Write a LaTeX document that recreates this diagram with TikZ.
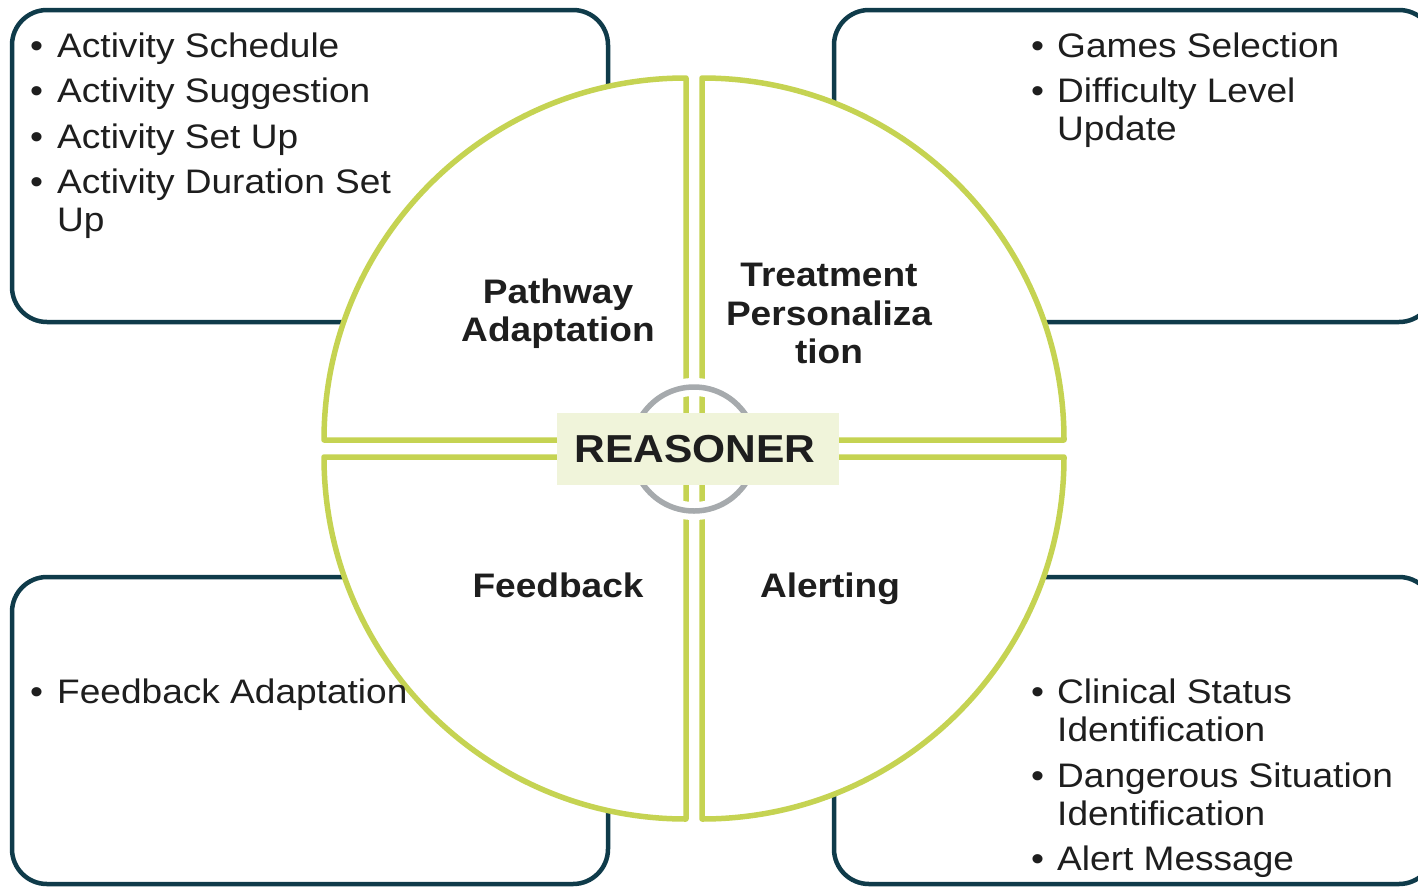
\documentclass[tikz,border=0pt]{standalone}
\usepackage{fontspec}
\setmainfont{Liberation Sans}[FakeStretch=1.09]
\definecolor{teal}{RGB}{15,59,74}
\definecolor{lgreen}{RGB}{197,211,82}
\definecolor{ringgray}{RGB}{166,170,173}
\definecolor{cfill}{RGB}{240,244,218}
\definecolor{ink}{RGB}{30,30,30}
\tikzset{
  boxshape/.style={draw=teal, line width=4.5pt, rounded corners=35pt, fill=white, inner sep=0pt},
  sector/.style={draw=lgreen, line width=5.5pt, fill=white, line join=round},
  bul/.style={anchor=base west, inner sep=0pt, text=ink, font=\fontsize{34}{38}\selectfont},
  txt/.style={anchor=base west, inner sep=0pt, text=ink, font=\fontsize{34}{38}\selectfont},
  lbl/.style={anchor=base, inner sep=0pt, text=ink, font=\bfseries\fontsize{34}{38}\selectfont},
  centerbox/.style={fill=cfill, minimum width=282pt, minimum height=72pt, inner sep=0pt, text=ink, font=\bfseries\fontsize{39}{44}\selectfont}
}
\begin{document}
\begin{tikzpicture}[x=1pt,y=-1pt]
\useasboundingbox (0,0) rectangle (1418,886);
\clip (0,0) rectangle (1418,886);
\fill[white] (0,0) rectangle (1418,886);
% outer boxes
\node[boxshape, minimum width=596pt, minimum height=312pt] (tlbox) at (310,166) {};
\node[boxshape, minimum width=600pt, minimum height=312pt] (trbox) at (1134,166) {};
\node[boxshape, minimum width=596pt, minimum height=307pt] (blbox) at (310,730.5) {};
\node[boxshape, minimum width=600pt, minimum height=307pt] (brbox) at (1134,730.5) {};
% sectors
\draw[sector] (686,440) -- (324,440) arc[start angle=180, end angle=270, radius=362] -- cycle;
\draw[sector] (702,440) -- (702,78) arc[start angle=270, end angle=360, radius=362] -- cycle;
\draw[sector] (686,457) -- (686,819) arc[start angle=90, end angle=180, radius=362] -- cycle;
\draw[sector] (702,457) -- (1064,457) arc[start angle=0, end angle=90, radius=362] -- cycle;
% ring
\draw[white, line width=18pt] (694,449) circle[radius=62];
\draw[ringgray, line width=5.5pt] (694,449) circle[radius=62];
% center
\node[centerbox] (reasoner) at (698,449) {\hspace*{-6pt}REASONER};
% sector labels
\node[lbl] (pa1) at (558,303) {Pathway};
\node[lbl] (pa2) at (558,341) {Adaptation};
\node[lbl] (tp1) at (829,286) {Treatment};
\node[lbl] (tp2) at (829,325) {Personaliza};
\node[lbl] (tp3) at (829,363) {tion};
\node[lbl] (fb) at (558,597) {Feedback};
\node[lbl] (al) at (830,597) {Alerting};
% top-left list
\node[bul] (b11) at (30,57) {•};
\node[txt] (t11) at (57,57) {Activity Schedule};
\node[bul] (b12) at (30,102.5) {•};
\node[txt] (t12) at (57,102.5) {Activity Suggestion};
\node[bul] (b13) at (30,148) {•};
\node[txt] (t13) at (57,148) {Activity Set Up};
\node[bul] (b14) at (30,193) {•};
\node[txt] (t14) at (57,193) {Activity Duration Set};
\node[txt] (t14b) at (57,231) {Up};
% top-right list
\node[bul] (b21) at (1031,57) {•};
\node[txt] (t21) at (1057,57) {Games Selection};
\node[bul] (b22) at (1031,102.5) {•};
\node[txt] (t22) at (1057,102.5) {Difficulty Level};
\node[txt] (t22b) at (1057,140.5) {Update};
% bottom-left list
\node[bul] (b31) at (30,703) {•};
\node[txt] (t31) at (57,703) {Feedback Adaptation};
% bottom-right list
\node[bul] (b41) at (1031,703) {•};
\node[txt] (t41) at (1057,703) {Clinical Status};
\node[txt] (t41b) at (1057,741) {Identification};
\node[bul] (b42) at (1031,787) {•};
\node[txt] (t42) at (1057,787) {Dangerous Situation};
\node[txt] (t42b) at (1057,825) {Identification};
\node[bul] (b43) at (1031,870) {•};
\node[txt] (t43) at (1057,870) {Alert Message};
\end{tikzpicture}
\end{document}
